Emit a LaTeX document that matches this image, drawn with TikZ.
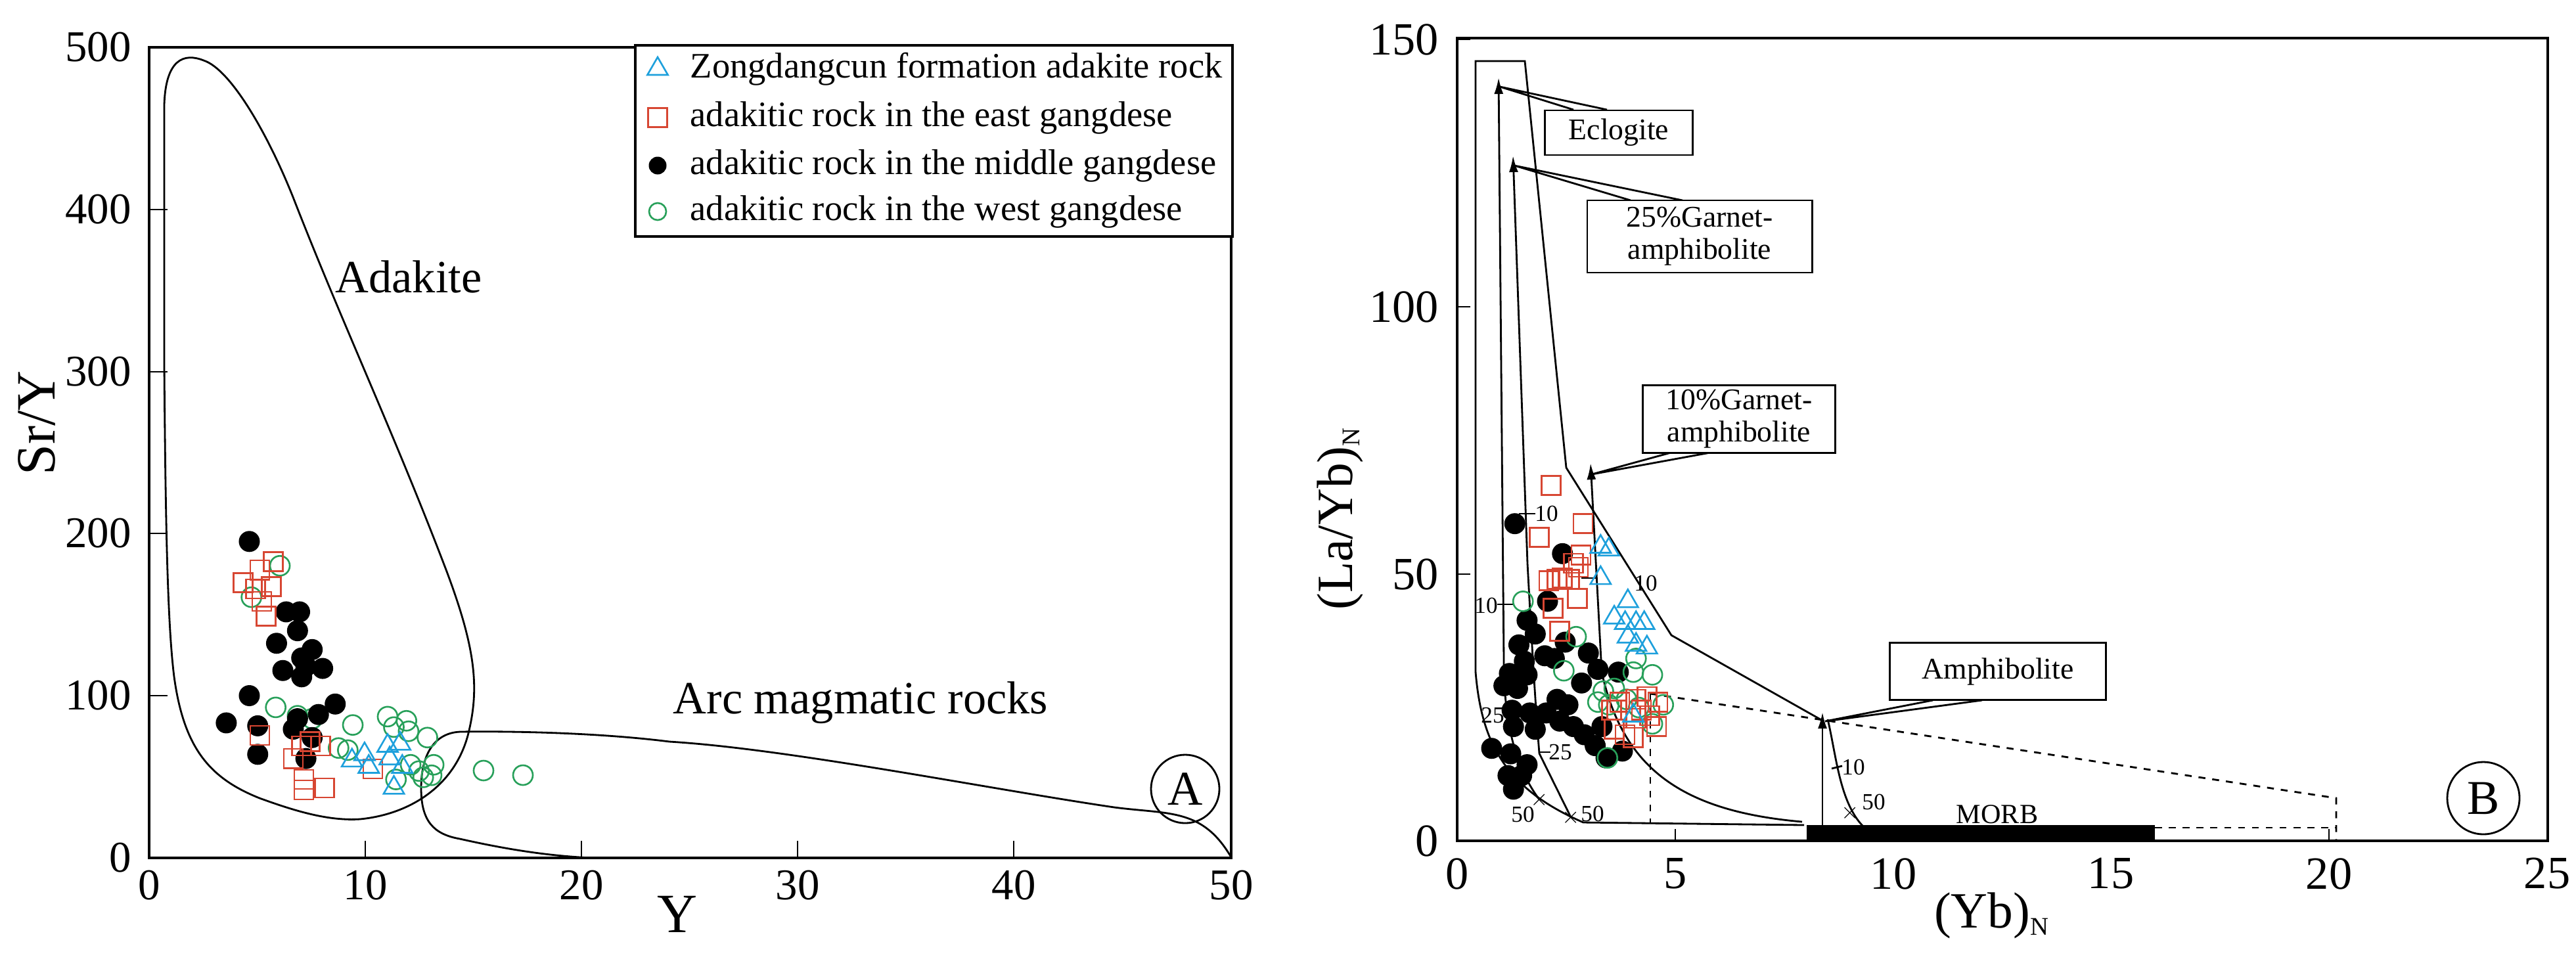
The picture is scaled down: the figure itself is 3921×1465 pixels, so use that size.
\documentclass[tikz,border=0pt]{standalone}
\usepackage{fontspec}
\setmainfont{Liberation Serif}
\usetikzlibrary{shapes.geometric,arrows.meta}
\definecolor{cyn}{RGB}{30,160,220}
\definecolor{redq}{RGB}{215,70,50}
\definecolor{grn}{RGB}{40,160,90}
\begin{document}
\begin{tikzpicture}[x=0.01cm,y=-0.01cm,
 curve/.style={line width=0.8pt},
 frame/.style={line width=1.2pt},
 mid/.style={circle,fill=black,inner sep=0,minimum size=0.32cm},
 west/.style={circle,draw=grn,line width=0.75pt,inner sep=0,minimum size=0.30cm},
 east/.style={rectangle,draw=redq,line width=0.75pt,inner sep=0,minimum size=0.29cm},
 zong/.style={regular polygon,regular polygon sides=3,draw=cyn,line width=0.75pt,inner sep=0,minimum size=0.36cm},
 numA/.style={font=\fontsize{19}{19}\selectfont},
 numB/.style={font=\fontsize{20}{20}\selectfont},
 small/.style={font=\fontsize{10}{10}\selectfont,inner sep=1pt},
 box/.style={draw,fill=white,line width=0.8pt,font=\fontsize{13}{14}\selectfont,align=center,inner sep=2pt},
 arr/.style={curve,-{Latex[length=0.25cm,width=0.14cm]}}]
\useasboundingbox (0,0) rectangle (3921,1465);
% ================= Panel A =================
\draw[frame] (227,72) rectangle (1874,1306);
\foreach \v/\y in {0/1306,100/1059,200/812,300/566,400/319,500/72}{
  \draw[curve] (227,\y) -- (255,\y);
  \node[numA,anchor=east] (ya\v) at (212,\y) {\v};}
\foreach \v/\x in {0/227,10/556,20/885,30/1214,40/1543,50/1874}{
  \draw[curve] (\x,1306) -- (\x,1280);
  \node[numA] (xa\v) at (\x,1348) {\v};}
\node[rotate=90,font=\fontsize{24}{24}\selectfont] (sry) at (56,644) {Sr/Y};
\node[font=\fontsize{24}{24}\selectfont] (ylab) at (1031,1392) {Y};
% adakite field
\draw[curve] (446,300) .. controls (406,200) and (350,105) .. (310,92)
  .. controls (280,80) and (252,90) .. (250,160) -- (250,555)
  .. controls (252,800) and (255,950) .. (265,1030)
  .. controls (280,1140) and (320,1185) .. (395,1215)
  .. controls (450,1235) and (500,1250) .. (548,1247)
  .. controls (620,1240) and (690,1200) .. (712,1120)
  .. controls (730,1050) and (725,990) .. (680,870)
  .. controls (600,660) and (520,490) .. (446,300);
% arc field
\draw[curve] (1874,1305) .. controls (1830,1230) and (1780,1240) .. (1696,1229)
  .. controls (1500,1200) and (1200,1140) .. (1019,1129)
  .. controls (900,1114) and (760,1113) .. (700,1114)
  .. controls (660,1116) and (641,1150) .. (641,1200)
  .. controls (641,1250) and (660,1270) .. (700,1277)
  .. controls (780,1295) and (840,1303) .. (900,1306);
\node[font=\fontsize{20}{20}\selectfont] (adak) at (622,421) {Adakite};
\node[font=\fontsize{20}{20}\selectfont] (arc) at (1310,1070) {Arc magmatic rocks};
\node[circle,draw,line width=0.8pt,minimum size=1.04cm,inner sep=0,font=\fontsize{21}{21}\selectfont] (labA) at (1804,1201) {A};
% legend
\draw[frame,fill=white] (967,69) rectangle (1876,360);
\node[zong] (lg1) at (1001,105) {};
\node[east] (lg2) at (1001,179) {};
\node[mid,minimum size=0.27cm] (lg3) at (1001,252) {};
\node[west,minimum size=0.26cm] (lg4) at (1001,322) {};
\foreach \t/\y [count=\i] in {Zongdangcun formation adakite rock/105,adakitic rock in the east gangdese/179,adakitic rock in the middle gangdese/252,adakitic rock in the west gangdese/322}
  \node[anchor=west,font=\fontsize{15.5}{15.5}\selectfont,inner sep=0] (lt\i) at (1050,\y) {\t};
% data A (zoom coordinates)
\begin{scope}[shift={(0,300)},scale=0.6378]
\foreach \p [count=\i] in {(842,1260),(808,1315),(830,1320),(925,1240),(940,1265),(970,1250),(975,1275),(1020,1290),(945,1390),(1000,1370),(1035,1355),(1030,1380),(980,1355),(1010,1385),(668,880),(600,955),(658,1218),(710,1238),(745,1245)}
  \node[west] (aw\i) at \p {};
\foreach \p [count=\i] in {(595,822),(683,990),(715,990),(710,1035),(660,1065),(745,1080),(675,1130),(730,1120),(770,1125),(720,1145),(720,1100),(595,1190),(540,1255),(800,1210),(760,1235),(710,1245),(615,1262),(615,1330),(745,1290),(730,1340),(700,1270)}
  \node[mid] (am\i) at \p {};
\foreach \p [count=\i] in {(652,870),(620,890),(580,920),(610,935),(648,930),(625,965),(635,1000),(620,1285),(720,1310),(700,1340),(740,1300),(765,1310),(725,1390),(775,1410),(725,1415),(890,1365)}
  \node[east] (ae\i) at \p {};
\foreach \p [count=\i] in {(840,1345),(870,1330),(925,1310),(955,1305),(930,1340),(960,1360),(940,1410),(880,1360)}
  \node[zong] (az\i) at \p {};
\end{scope}
\node[west] (aw20) at (736,1173) {};
\node[west] (aw21) at (796,1180) {};
% ================= Panel B =================
\draw[frame] (2218,58) rectangle (3878,1280);
\foreach \v/\y in {0/1280,50/874,100/467,150/60}{
  \draw[curve] (2218,\y) -- (2238,\y);
  \node[numB,anchor=east] (yb\v) at (2202,\y) {\v};}
\foreach \v/\x in {0/2218,5/2550,10/2882,15/3213,20/3545,25/3877}{
  \draw[curve] (\x,1280) -- (\x,1262);
  \node[numB] (xb\v) at (\x,1330) {\v};}
\node[rotate=90,font=\fontsize{22}{22}\selectfont] (layb) at (2040,790) {(La/Yb)\raisebox{-0.3ex}{\fontsize{11}{11}\selectfont N}};
\node[font=\fontsize{22}{22}\selectfont] (ybl) at (3031,1394) {(Yb)\raisebox{-0.3ex}{\fontsize{11}{11}\selectfont N}};
% fields
\draw[curve] (2246,1023) -- (2246,93) -- (2321,93) -- (2384,712) -- (2544,967) -- (2776,1098);
\draw[curve] (2246,1023) .. controls (2255,1130) and (2290,1200) .. (2410,1252) -- (2746,1256);
\draw[dashed,curve] (2512,1056) -- (3556,1215) -- (3556,1280);
\draw[dashed,curve] (2512,1056) -- (2512,1253);
\draw[dashed,curve] (3280,1260) -- (3556,1260);
\fill (2750,1256) rectangle (3280,1280);
\node[font=\fontsize{12}{12}\selectfont] (morb) at (3040,1240) {MORB};
% melting paths
\draw[arr] (2343,1217) .. controls (2300,1160) and (2289,1080) .. (2289,1006) -- (2281,118);
\draw[arr] (2391,1244) -- (2343,1147) .. controls (2336,1060) and (2330,950) .. (2325,858) -- (2303,237);
\draw[arr] (2743,1251) .. controls (2560,1235) and (2470,1170) .. (2438,1023) -- (2421,705);
\draw[arr] (2774,1256) -- (2774,1084);
\draw[curve] (2835,1257) .. controls (2800,1220) and (2795,1150) .. (2782,1095);
% small ticks and labels
\draw[curve] (2279,920) -- (2304,920);
\node[small] (t1) at (2262,922) {10};
\draw[curve] (2312,782) -- (2337,782);
\node[small] (t2) at (2354,782) {10};
\draw[curve] (2407,880) -- (2430,880);
\node[small] (t3) at (2505,888) {10};
\node[small] (t4) at (2272,1089) {25};
\draw[curve] (2343,1145) -- (2360,1145);
\node[small] (t5) at (2375,1145) {25};
\node[small] (t6) at (2343,1218) {$\times$};
\node[small] (t7) at (2318,1240) {50};
\node[small] (t8) at (2391,1245) {$\times$};
\node[small] (t9) at (2424,1239) {50};
\draw[curve] (2788,1170) -- (2804,1166);
\node[small] (t10) at (2821,1168) {10};
\node[small] (t11) at (2816,1238) {$\times$};
\node[small] (t12) at (2852,1221) {50};
% callouts
\draw[curve] (2395,167) -- (2283,132) -- (2446,167);
\node[box,minimum width=2.25cm,minimum height=0.68cm] (ecl) at (2464,202) {Eclogite};
\draw[curve] (2482,305) -- (2305,252) -- (2561,305);
\node[box,minimum width=3.42cm,minimum height=1.1cm] (g25) at (2587,360) {25\%Garnet-\\amphibolite};
\draw[curve] (2558,685) -- (2423,722) -- (2625,685);
\node[box,minimum width=2.93cm,minimum height=0.94cm] (g10) at (2647,638) {10\%Garnet-\\amphibolite};
\draw[curve] (2942,1066) -- (2778,1098) -- (3017,1066);
\node[box,minimum width=3.29cm,minimum height=0.87cm] (amph) at (3041,1022) {Amphibolite};
\node[circle,draw,line width=0.8pt,minimum size=1.1cm,inner sep=0,font=\fontsize{21}{21}\selectfont] (labB) at (3780,1215) {B};
% data B (zoom coordinates)
\begin{scope}[shift={(2200,650)},scale=0.4146]
\foreach \p [count=\i] in {(255,355),(430,465),(375,640),(300,710),(330,760),(270,800),(365,840),(400,850),(440,790),(525,830),(560,890),(635,900),(500,940),(235,905),(300,910),(215,950),(265,960),(410,1000),(450,1020),(245,1040),(310,1050),(370,1050),(420,1080),(250,1100),(330,1110),(470,1100),(510,1130),(550,1170),(575,1100),(650,1190),(170,1180),(240,1200),(300,1240),(230,1280),(250,1330),(280,1280),(590,1215),(290,860)}
  \node[mid] (bm\i) at \p {};
\foreach \p [count=\i] in {(285,640),(480,770),(435,895),(700,850),(760,910),(690,900),(580,970),(620,960),(560,1010),(600,1020),(800,1020),(760,1090),(595,1215),(710,1030),(665,1000)}
  \node[west] (bw\i) at \p {};
\foreach \p [count=\i] in {(388,215),(505,355),(345,405),(498,470),(470,500),(488,515),(380,565),(410,560),(430,555),(455,560),(485,630),(395,665),(420,750),(610,1040),(640,1010),(700,1000),(740,990),(780,1010),(720,1040),(700,1070),(750,1060),(775,1100),(620,1110),(660,1130),(690,1140),(630,1040)}
  \node[east] (be\i) at \p {};
\foreach \p [count=\i] in {(570,440),(600,450),(570,555),(670,640),(620,700),(660,720),(700,720),(730,720),(670,770),(700,800),(740,810),(690,1060)}
  \node[zong] (bz\i) at \p {};
\end{scope}
\end{tikzpicture}
\end{document}
